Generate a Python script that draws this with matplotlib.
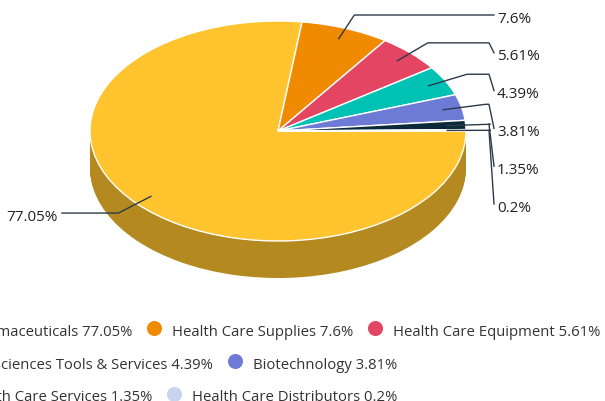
import numpy as np
import matplotlib.pyplot as plt
import matplotlib.colors as mcolors

plt.rcParams['font.family'] = ['Open Sans', 'DejaVu Sans']

# data
sectors = ['Pharmaceuticals', 'Health Care Supplies', 'Health Care Equipment',
           'Life Sciences Tools & Services', 'Biotechnology',
           'Health Care Services', 'Health Care Distributors']
shares = [77.05, 7.6, 5.61, 4.39, 3.81, 1.35, 0.2]
colors = ['#FFC42E', '#F08A00', '#E34563', '#00C2B4', '#6D7BD6', '#0C293A', '#C8D3EE']
legend_rows = [[0, 1, 2], [3, 4], [5, 6]]

# layout (pixels)
W, H = 605, 402
cx, cy = 278, 132      # centre of top face
rx, ry = 188, 110      # radii of top ellipse
depth = 37             # thickness of the pie

fig = plt.figure(figsize=(W / 100, H / 100), dpi=100)
ax = fig.add_axes([0, 0, 1, 1])

# side wall: stacked darker copies, bottom first
dark = [tuple(0.7 * c for c in mcolors.to_rgb(col)) for col in colors]
for k in range(depth, 0, -1):
    ax.pie(shares, colors=dark, startangle=0, counterclock=False,
           center=(0, -k / ry), radius=1, wedgeprops=dict(linewidth=0))

# top face
ax.pie(shares, colors=colors, startangle=0, counterclock=False, radius=1,
       wedgeprops=dict(edgecolor='white', linewidth=1))
ax.set_aspect('auto')
ax.set_xlim(-cx / rx, (W - cx) / rx)
ax.set_ylim((cy - H) / ry, cy / ry)
ax.axis('off')

# overlay in pixel coords for labels + legend
ov = fig.add_axes([0, 0, 1, 1])
ov.set_xlim(0, W)
ov.set_ylim(H, 0)
ov.axis('off')
ov.patch.set_alpha(0)

line_col = '#2b3b4b'
cum = np.cumsum([0] + shares) / 100.0
mids = -(cum[:-1] + cum[1:]) / 2 * 2 * np.pi

last_y = None
for i, a in enumerate(mids):
    c, s = np.cos(a), np.sin(a)
    x0, y0 = cx + 0.9 * rx * c, cy - 0.9 * ry * s
    x1, y1 = cx + 1.13 * rx * c, cy - 1.13 * ry * s
    txt = f'{shares[i]}%'
    if c < 0:
        ov.plot([x0, x1, 62], [y0, y1, y1], color=line_col, lw=1)
        ov.text(58, y1 + 1, txt, ha='right', va='center_baseline', fontsize=11, color='#222222')
    else:
        ly = y1 if last_y is None else max(y1, last_y + 37.8)
        last_y = ly
        ov.plot([x0, x1, 489, 494], [y0, y1, y1, ly], color=line_col, lw=1)
        ov.text(497, ly + 1, txt, ha='left', va='center_baseline', fontsize=11, color='#222222')

# legend, flowing rows clipped at the left edge
fig.canvas.draw()
rend = fig.canvas.get_renderer()
row_y = [330.5, 363.5, 396]
row_end = [132, 213, 152]
for r, items in enumerate(legend_rows):
    y = row_y[r]
    x_end = row_end[r]
    for j, i in enumerate(items):
        label = f'{sectors[i]} {shares[i]}%'
        if j == 0:
            t = ov.text(x_end, y, label, ha='right', va='center_baseline',
                        fontsize=10.7, color='#333333')
            bb = t.get_window_extent(rend)
            x_start = x_end - bb.width
        else:
            mx = x_end + 22
            x_start = mx + 18
            t = ov.text(x_start, y, label, ha='left', va='center_baseline',
                        fontsize=10.7, color='#333333')
            bb = t.get_window_extent(rend)
            x_end = x_start + bb.width
        ov.scatter([x_start - 18], [y - 1.5], s=117, color=colors[i], linewidths=0)

fig.savefig('out.png', dpi=100)
